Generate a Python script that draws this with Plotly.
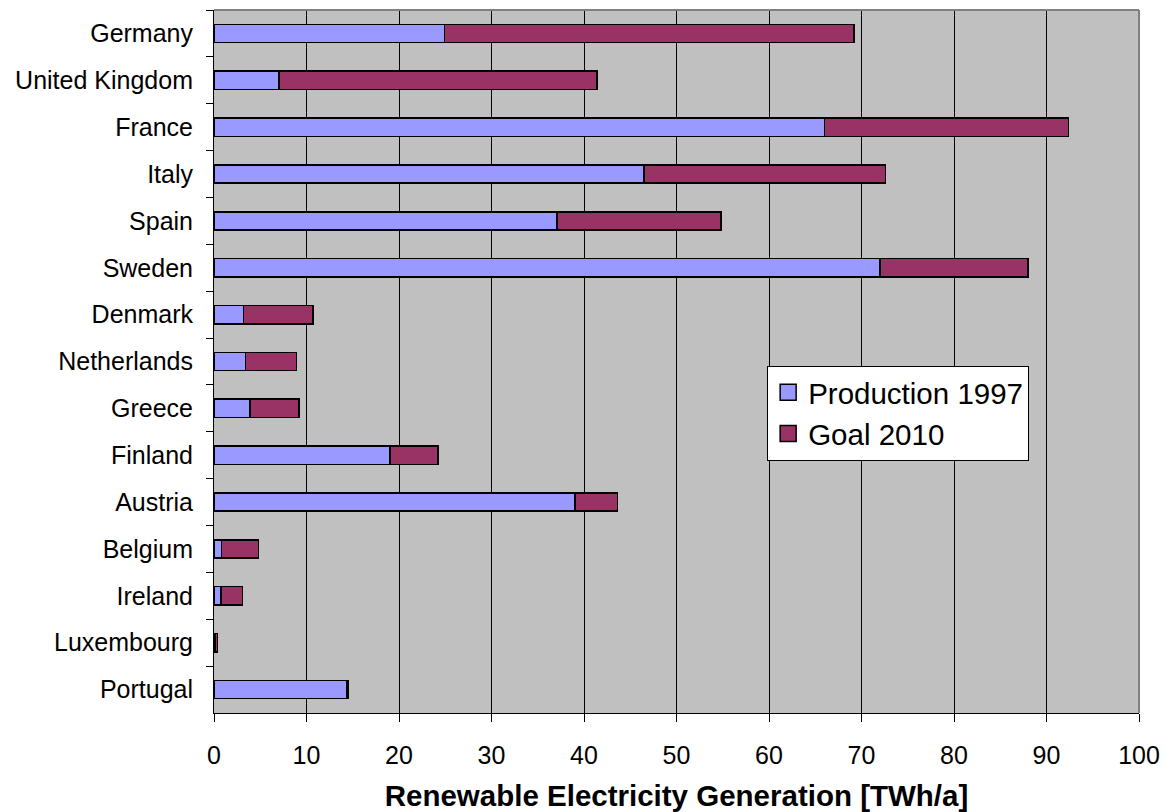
import plotly.graph_objects as go

countries = ["Germany", "United Kingdom", "France", "Italy", "Spain", "Sweden",
             "Denmark", "Netherlands", "Greece", "Finland", "Austria", "Belgium",
             "Ireland", "Luxembourg", "Portugal"]
production_1997 = [24.9, 7.0, 66.0, 46.5, 37.1, 72.0, 3.2, 3.4, 3.9, 19.0, 39.0, 0.8, 0.75, 0.1, 14.3]
goal_2010 = [69.2, 41.4, 92.4, 72.6, 54.8, 88.0, 10.7, 8.9, 9.2, 24.2, 43.6, 4.8, 3.1, 0.4, 14.5]
goal_increment = [g - p for g, p in zip(goal_2010, production_1997)]
x_ticks = [0, 10, 20, 30, 40, 50, 60, 70, 80, 90, 100]

FONT = "Arial, Liberation Sans, sans-serif"
BLUE = "#9999FF"
RED = "#993366"

fig = go.Figure()
fig.add_trace(go.Bar(
    y=countries, x=production_1997, orientation="h", name="Production 1997",
    marker=dict(color=BLUE, line=dict(color="black", width=1.5)),
    showlegend=False,
))
fig.add_trace(go.Bar(
    y=countries, x=goal_increment, orientation="h", name="Goal 2010",
    marker=dict(color=RED, line=dict(color="black", width=1.5)),
    showlegend=False,
))
# legend entries with larger square keys
for name, col in [("Production 1997", BLUE), ("Goal 2010", RED)]:
    fig.add_trace(go.Scatter(
        x=[None], y=[None], mode="markers", name=name,
        marker=dict(symbol="square", size=16, color=col, line=dict(color="black", width=1.5)),
        showlegend=True,
    ))

fig.update_layout(
    barmode="stack",
    bargap=0.61,
    width=1165, height=812,
    margin=dict(l=214, r=26, t=10, b=99),
    paper_bgcolor="white",
    plot_bgcolor="#C0C0C0",
    font=dict(family=FONT, color="black", size=25),
    legend=dict(
        x=0.598, y=0.4267, xanchor="left", yanchor="middle",
        bgcolor="white", bordercolor="black", borderwidth=1,
        font=dict(size=29.5, family=FONT, color="black"),
        traceorder="normal", itemwidth=30,
    ),
    xaxis=dict(
        range=[0, 100], tickvals=x_ticks, ticks="outside", ticklen=8,
        tickcolor="black", showline=True, linecolor="black", linewidth=1,
        showgrid=True, gridcolor="black", gridwidth=1, zeroline=False,
        tickfont=dict(size=25), ticklabelstandoff=12, automargin=False,
        title=dict(text="<b>Renewable Electricity Generation [TWh/a]</b>",
                   font=dict(size=29.5), standoff=22),
        fixedrange=True,
    ),
    yaxis=dict(
        categoryorder="array", categoryarray=countries, autorange="reversed",
        ticks="outside", tickson="boundaries", ticklen=7, tickcolor="black",
        showline=True, linecolor="black", linewidth=1, showgrid=False,
        tickfont=dict(size=25), ticklabelstandoff=15, automargin=False,
        fixedrange=True,
    ),
    shapes=[
        dict(type="line", xref="paper", yref="paper", x0=0, x1=1, y0=1, y1=1,
             line=dict(color="#808080", width=2), layer="above"),
        dict(type="line", xref="paper", yref="paper", x0=1, x1=1, y0=0, y1=1,
             line=dict(color="#808080", width=2), layer="above"),
    ],
)

fig.write_html("out.html", config={"displayModeBar": False},
               post_script="document.body.style.margin='0';document.body.style.overflow='hidden';")
